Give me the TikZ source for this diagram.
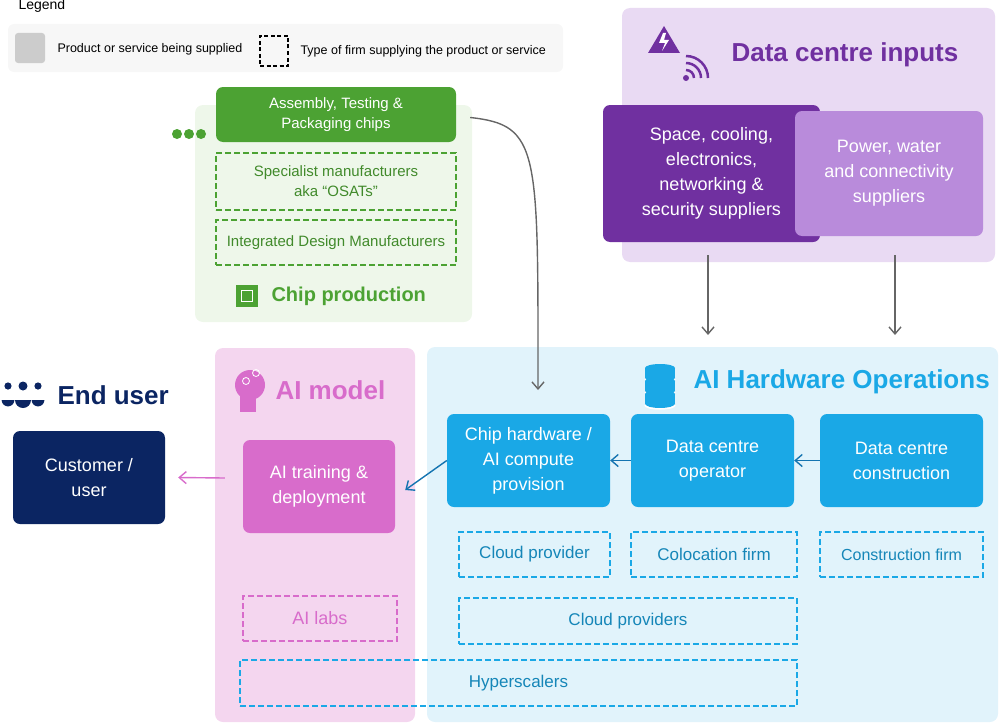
\documentclass[tikz,border=0pt]{standalone}
\usepackage{fontspec}
\setmainfont{Liberation Sans}
\usetikzlibrary{arrows.meta,positioning}
\definecolor{chipg}{HTML}{4CA233}
\definecolor{chipbg}{HTML}{EEF7EA}
\definecolor{dcp}{HTML}{7030A0}
\definecolor{dclp}{HTML}{B98BDB}
\definecolor{dcbg}{HTML}{E9DAF3}
\definecolor{hwb}{HTML}{1AA8E6}
\definecolor{hwbg}{HTML}{E1F3FB}
\definecolor{aip}{HTML}{D86CCB}
\definecolor{aibg}{HTML}{F4D6EF}
\definecolor{navy}{HTML}{0B2562}
\begin{document}
\begin{tikzpicture}[x=1pt,y=-1pt,
  panel/.style={rounded corners=8pt, draw=none},
  solid box/.style={rounded corners=7pt, text=white, align=center, font=\fontsize{18}{25}\selectfont, inner sep=2pt},
  firm/.style={draw, line width=1.5pt, dash pattern=on 6pt off 3pt, align=center, font=\fontsize{16}{20}\selectfont, inner sep=2pt},
  title/.style={font=\bfseries\fontsize{26}{30}\selectfont, anchor=west},
  flow/.style={-{Straight Barb[length=7pt,width=12pt]}, line width=1.4pt}
]
\useasboundingbox (0,0) rectangle (1000,725);

% --- legend ---
\node[anchor=west, font=\fontsize{14}{16}\selectfont] (legend) at (15,6) {Legend};
\fill[gray!6, rounded corners=6pt] (8,24) rectangle (563,72);
\node[fill=gray!40, rounded corners=3pt, minimum size=30pt] (lgbox) at (30,48) {};
\node[anchor=west, font=\fontsize{12.5}{15}\selectfont] (lgtext) at (54,49) {Product or service being supplied};
\node[draw, line width=1.4pt, dash pattern=on 4pt off 2.5pt, minimum width=28pt, minimum height=30pt] (lgdash) at (274,51) {};
\node[anchor=west, font=\fontsize{12.5}{15}\selectfont] (lgtext2) at (297,51) {Type of firm supplying the product or service};

% --- panels ---
\fill[chipbg, panel] (195,105) rectangle (472,322);
\fill[dcbg, panel] (622,8) rectangle (995,262);
\fill[hwbg, panel] (427,347) rectangle (998,722);
\fill[aibg, panel] (215,348) rectangle (415,722);

% --- chip production ---
\node[solid box, fill=chipg, minimum width=240pt, minimum height=55pt, font=\fontsize{15}{20}\selectfont] (atp) at (336,114.5) {Assembly, Testing \&\\Packaging chips};
\node[firm, draw=chipg, text=chipg!85!black, minimum width=240pt, minimum height=57pt, font=\fontsize{15}{20}\selectfont] (osat) at (336,181.5) {Specialist manufacturers\\aka ``OSATs''};
\node[firm, draw=chipg, text=chipg!85!black, minimum width=240pt, minimum height=45pt, font=\fontsize{15}{20}\selectfont] (idm) at (336,242.5) {Integrated Design Manufacturers};
\foreach \x in {177,189,201} \fill[chipg] (\x,134) circle (5pt);
\node[fill=chipg, minimum size=22pt, inner sep=0pt] (chipicon) at (247,296) {};
\node[draw=white, thick, minimum size=11pt, inner sep=0pt] at (chipicon) {};
\node[title, text=chipg, font=\bfseries\fontsize{20}{24}\selectfont] (chiptitle) at (268,296) {Chip production};

% --- data centre inputs ---
\fill[dcp] (648,53) -- (664,26) -- (680,53) -- cycle;
\fill[white] (663,33) -- (659,43) -- (665,43) -- (662,51) -- (669,40) -- (664,40) -- (666,33) -- cycle;
\foreach \r in {8,15,22} \draw[dcp, line width=2.5pt] (686,78) ++(0:\r) arc (0:-90:\r);
\fill[dcp] (686,78) circle (3pt);
\node[title, text=dcp] (dctitle) at (728,55) {Data centre inputs};
\node[solid box, fill=dcp, minimum width=217pt, minimum height=137pt] (space) at (711.5,173.5) {Space, cooling,\\electronics,\\networking \&\\security suppliers};
\node[solid box, fill=dclp, minimum width=188pt, minimum height=125pt] (power) at (889,173.5) {Power, water\\and connectivity\\suppliers};
\coordinate (dcout1) at (708,255);
\coordinate (dcout2) at (895,255);
\coordinate (dcin1) at (708,335);
\coordinate (dcin2) at (895,335);

% --- AI hardware operations ---
\foreach \y in {368,381,394} {
  \fill[hwb] (645,\y) rectangle (675,\y+10);
  \fill[hwb] (660,\y) ellipse (15pt and 4pt);
  \fill[hwb] (660,\y+10) ellipse (15pt and 4pt);
  \draw[white, line width=1.5pt] (645,\y+11) arc (180:360:15pt and 4pt);
}
\node[title, text=hwb] (hwtitle) at (690,382) {AI Hardware Operations};
\node[solid box, fill=hwb, minimum width=163pt, minimum height=93pt] (chiphw) at (528.5,460.5) {Chip hardware /\\AI compute\\provision};
\node[solid box, fill=hwb, minimum width=163pt, minimum height=93pt] (dcop) at (712.5,460.5) {Data centre\\operator};
\node[solid box, fill=hwb, minimum width=163pt, minimum height=93pt] (dccon) at (901.5,460.5) {Data centre\\construction};
\node[firm, draw=hwb, text=hwb!80!black, minimum width=151pt, minimum height=45pt, font=\fontsize{17}{20}\selectfont] (cloud) at (534.5,554.5) {Cloud provider};
\node[firm, draw=hwb, text=hwb!80!black, minimum width=166pt, minimum height=45pt, font=\fontsize{17}{20}\selectfont] (coloc) at (714,554.5) {Colocation firm};
\node[firm, draw=hwb, text=hwb!80!black, minimum width=163pt, minimum height=45pt] (confirm) at (901.5,554.5) {Construction firm};
\node[firm, draw=hwb, text=hwb!80!black, minimum width=338pt, minimum height=46pt, font=\fontsize{17}{20}\selectfont] (clouds) at (628,621) {Cloud providers};
\node[firm, draw=hwb, text=hwb!80!black, minimum width=557pt, minimum height=46pt, font=\fontsize{17}{20}\selectfont] (hyper) at (518.5,683) {Hyperscalers};

% --- AI model ---
\fill[aip] (250,385) circle (15pt);
\fill[aip] (240,395) rectangle (256,412);
\foreach \p in {(246,381),(256,373)} \draw[white, thick] \p circle (3.5pt);
\node[title, text=aip] (aititle) at (272,390) {AI model};
\node[solid box, fill=aip, minimum width=152pt, minimum height=93pt] (train) at (319,486.5) {AI training \&\\deployment};
\node[firm, draw=aip, text=aip, minimum width=154pt, minimum height=45pt, font=\fontsize{18}{22}\selectfont] (labs) at (320,618.5) {AI labs};

% --- end user ---
\foreach \x/\s in {8/0.8,23/1,38/0.8} {
  \fill[navy] (\x,386) circle ({4.5*\s});
  \fill[navy] ({\x-8*\s},400) arc (180:0:{8*\s}) -- cycle;
}
\node[title, text=navy] (eutitle) at (54,395) {End user};
\node[solid box, fill=navy, minimum width=152pt, minimum height=93pt] (cust) at (89,477.5) {Customer /\\user};

% --- connectors ---
\draw[flow, gray!80!black] (dcout1) -- (dcin1);
\draw[flow, gray!80!black] (dcout2) -- (dcin2);
\draw[flow, gray!80!black] ([xshift=14pt,yshift=-3pt]atp.east) .. controls (540,125) and (538,150) .. (538,390);
\draw[flow, hwb!60!navy] (chiphw.west) -- ([xshift=10pt,yshift=-3.5pt]train.east);
\draw[flow, hwb!60!navy] (dcop.west) -- (chiphw.east);
\draw[flow, hwb!60!navy] (dccon.west) -- (dcop.east);
\draw[flow, aip] ([xshift=-18pt,yshift=8.5pt]train.west) -- ([xshift=13pt]cust.east);
\end{tikzpicture}
\end{document}
